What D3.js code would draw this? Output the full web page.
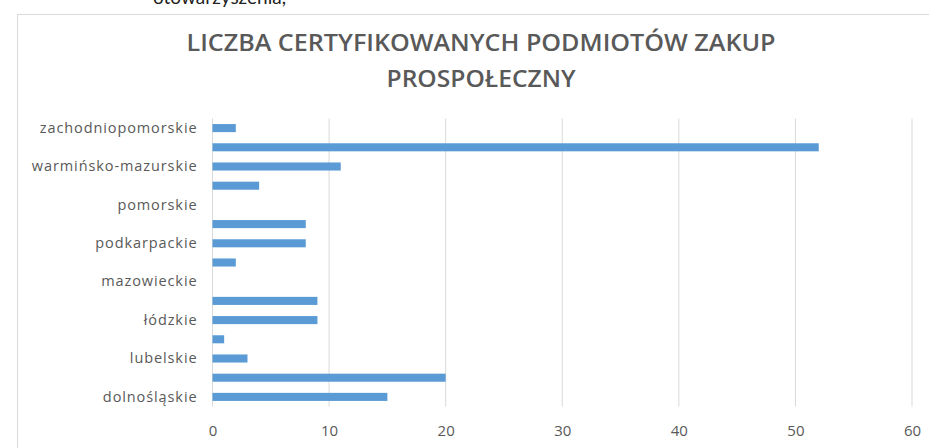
<!DOCTYPE html>
<html>
<head>
<meta charset="utf-8">
<script src="https://cdn.jsdelivr.net/npm/d3@7"></script>
<style>
  body { margin: 0; background: #fff; }
  svg { display: block; }
</style>
</head>
<body>
<svg id="chart" width="929" height="448"></svg>
<script>
// categories from bottom to top, as in the sheet
const regions = [
    'dolnośląskie', 'kujawsko-pomorskie', 'lubelskie', 'lubuskie', 'łódzkie',
    'małopolskie', 'mazowieckie', 'opolskie', 'podkarpackie', 'podlaskie',
    'pomorskie', 'śląskie', 'warmińsko-mazurskie', 'wielkopolskie', 'zachodniopomorskie'
];
const counts = [15, 20, 3, 1, 9, 9, 0, 2, 8, 8, 0, 4, 11, 52, 2];
const xTicks = [0, 10, 20, 30, 40, 50, 60];
const titleLines = ['LICZBA CERTYFIKOWANYCH PODMIOTÓW ZAKUP', 'PROSPOŁECZNY'];

const svg = d3.select('#chart');
const textColor = '#595959';

// bit of the document text above the chart, cut off by the screenshot
svg.append('text')
    .attr('x', 153).attr('y', 4)
    .attr('font-family', 'Lato, sans-serif')
    .attr('font-size', 19)
    .attr('fill', '#222')
    .text('otowarzyszenia,');

// chart frame
svg.append('rect')
    .attr('x', 17.5).attr('y', 14.5)
    .attr('width', 930).attr('height', 450)
    .attr('fill', '#fff')
    .attr('stroke', '#d9d9d9');

const margin = { left: 212.5, right: 17, top: 118.5, bottom: 41.5 };

let x = d3.scaleLinear()
    .domain([0, 60])
    .range([margin.left, 929 - margin.right]);

let y = d3.scaleBand()
    .domain(regions)
    .range([448 - margin.bottom, margin.top])
    .paddingInner(0.58)
    .paddingOuter(0.29);

// title
svg.append('g')
    .selectAll('text')
    .data(titleLines)
    .enter()
    .append('text')
    .attr('x', 481)
    .attr('y', (d, i) => 51 + i * 36)
    .attr('text-anchor', 'middle')
    .attr('font-family', '"Open Sans", sans-serif')
    .attr('font-weight', 600)
    .attr('font-size', 24)
    .attr('fill', textColor)
    .attr('textLength', (d, i) => i === 0 ? 589 : 189)
    .attr('lengthAdjust', 'spacingAndGlyphs')
    .text(d => d);

// vertical gridlines
svg.append('g')
    .selectAll('line')
    .data(xTicks)
    .enter()
    .append('line')
    .attr('x1', d => x(d)).attr('x2', d => x(d))
    .attr('y1', margin.top).attr('y2', 448 - margin.bottom)
    .attr('stroke', '#d9d9d9')
    .attr('stroke-width', 1);

// bars
svg.append('g')
    .selectAll('rect')
    .data(regions)
    .enter()
    .append('rect')
    .attr('x', x(0))
    .attr('y', d => y(d))
    .attr('width', (d, i) => x(counts[i]) - x(0))
    .attr('height', y.bandwidth())
    .attr('fill', '#5b9bd5');

// x axis labels
let xAxis = d3.axisBottom(x)
    .tickValues(xTicks)
    .tickSize(0)
    .tickPadding(19);

let gx = svg.append('g')
    .attr('transform', `translate(0,${448 - margin.bottom})`)
    .call(xAxis);
gx.select('.domain').remove();
gx.selectAll('text')
    .attr('font-family', '"Open Sans", sans-serif')
    .attr('font-size', 15)
    .attr('fill', textColor);

// y axis: Excel shows every second category only
let yAxis = d3.axisLeft(y)
    .tickValues(regions.filter((d, i) => i % 2 === 0))
    .tickSize(0)
    .tickPadding(15);

let gy = svg.append('g')
    .attr('transform', `translate(${margin.left},0)`)
    .call(yAxis);
gy.select('.domain').remove();
gy.selectAll('text')
    .attr('font-family', '"Open Sans", sans-serif')
    .attr('font-size', 14.5)
    .attr('letter-spacing', '0.9px')
    .attr('fill', textColor);
</script>
</body>
</html>
